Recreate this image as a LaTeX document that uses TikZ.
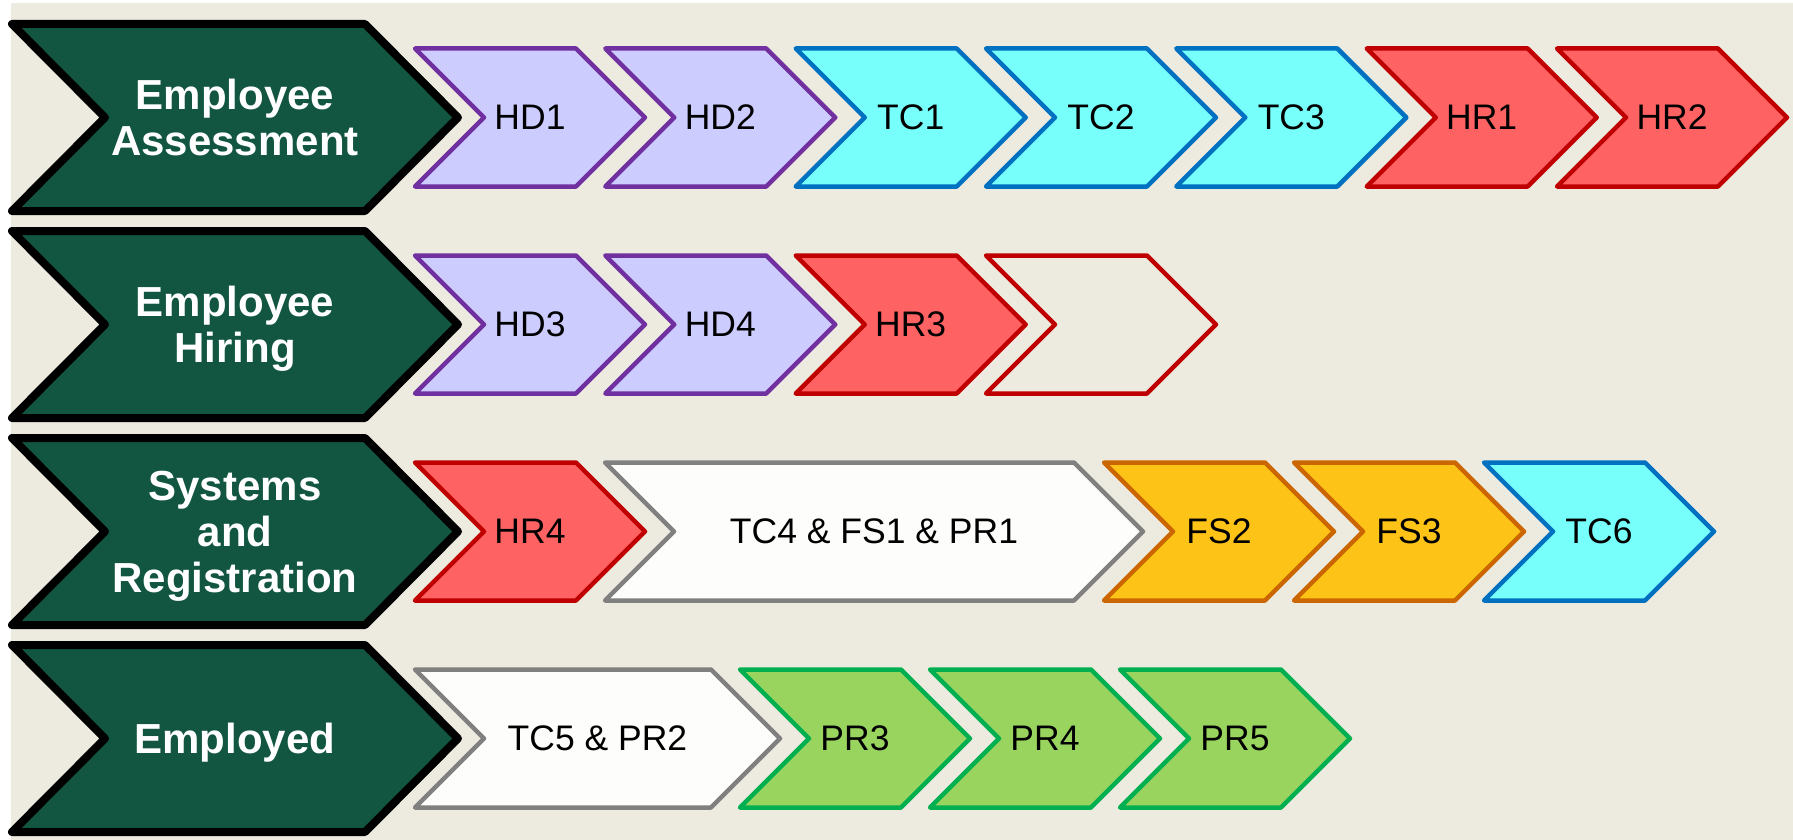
\documentclass[tikz,border=0pt]{standalone}
\usepackage{fontspec}
\setmainfont{Liberation Sans}
\usepackage{xcolor}
\definecolor{bg}{HTML}{EDEADF}
\definecolor{stagegreen}{HTML}{125642}
\definecolor{hdfill}{HTML}{CCCCFF}
\definecolor{hdline}{HTML}{7030A0}
\definecolor{tcfill}{HTML}{77FFFC}
\definecolor{tcline}{HTML}{0070C0}
\definecolor{hrfill}{HTML}{FF6262}
\definecolor{hrline}{HTML}{C00000}
\definecolor{fsfill}{HTML}{FDC316}
\definecolor{fsline}{HTML}{CC6600}
\definecolor{prfill}{HTML}{99D45E}
\definecolor{prline}{HTML}{00B050}
\definecolor{wtfill}{HTML}{FDFDFB}
\definecolor{wtline}{HTML}{808080}

\tikzset{
  stage/.style={fill=stagegreen, draw=black, line width=8pt, line join=round},
  task/.style={line width=4.5pt, line join=round},
  hd/.style={task, fill=hdfill, draw=hdline},
  tc/.style={task, fill=tcfill, draw=tcline},
  hr/.style={task, fill=hrfill, draw=hrline},
  hrempty/.style={task, draw=hrline},
  fs/.style={task, fill=fsfill, draw=fsline},
  pr/.style={task, fill=prfill, draw=prline},
  joint/.style={task, fill=wtfill, draw=wtline},
  stagetext/.style={text=white, font=\fontsize{42}{46}\selectfont\bfseries,
    align=center, inner sep=0pt, text depth=0pt},
  tasktext/.style={font=\fontsize{35.5}{42}\selectfont, inner sep=0pt, text depth=0pt}
}

% big dark chevron on the left of a row: name, mid y, text
\newcommand{\stagechev}[3]{%
  \draw[stage] (12,#2-93.5) -- (365,#2-93.5) -- (458,#2) -- (365,#2+93.5)
    -- (12,#2+93.5) -- (105,#2) -- cycle;
  \node[stagetext] (#1) at (235,#2) {#3};}

% small chevron: name, style, left, right, mid y, text
\newcommand{\taskchev}[6]{%
  \draw[#2] (#3,#5-69) -- (#4-69,#5-69) -- (#4,#5) -- (#4-69,#5+69)
    -- (#3,#5+69) -- (#3+69,#5) -- cycle;
  \node[tasktext] (#1) at ({(#3+#4)/2},#5) {#6};}

\begin{document}
\begin{tikzpicture}[x=1pt, y=-1pt]
  \useasboundingbox (0,0) rectangle (1793,840);
  \fill[bg] (11,3) rectangle (1793,840);

  % assessment
  \stagechev{assess}{117.5}{Employee\\Assessment}
  \taskchev{hdone}{hd}{415}{645}{117.5}{HD1}
  \taskchev{hdtwo}{hd}{605.3}{835.3}{117.5}{HD2}
  \taskchev{tcone}{tc}{795.7}{1025.7}{117.5}{TC1}
  \taskchev{tctwo}{tc}{986}{1216}{117.5}{TC2}
  \taskchev{tcthree}{tc}{1176.3}{1406.3}{117.5}{TC3}
  \taskchev{hrone}{hr}{1366.7}{1596.7}{117.5}{HR1}
  \taskchev{hrtwo}{hr}{1557}{1787}{117.5}{HR2}

  % hiring
  \stagechev{hiring}{324.5}{Employee\\Hiring}
  \taskchev{hdthree}{hd}{415}{645}{324.5}{HD3}
  \taskchev{hdfour}{hd}{605.3}{835.3}{324.5}{HD4}
  \taskchev{hrthree}{hr}{795.7}{1025.7}{324.5}{HR3}
  \taskchev{hrblank}{hrempty}{986}{1216}{324.5}{}

  % systems
  \stagechev{systems}{531.5}{Systems\\and\\Registration}
  \taskchev{hrfour}{hr}{415}{645}{531.5}{HR4}
  \taskchev{tcfour}{joint}{605}{1143}{531.5}{TC4 \& FS1 \& PR1}
  \taskchev{fstwo}{fs}{1104}{1334}{531.5}{FS2}
  \taskchev{fsthree}{fs}{1294}{1524}{531.5}{FS3}
  \taskchev{tcsix}{tc}{1484}{1714}{531.5}{TC6}

  % employed
  \stagechev{employed}{738.5}{Employed}
  \taskchev{tcfive}{joint}{415}{780}{738.5}{TC5 \& PR2}
  \taskchev{prthree}{pr}{740}{970}{738.5}{PR3}
  \taskchev{prfour}{pr}{930}{1160}{738.5}{PR4}
  \taskchev{prfive}{pr}{1120}{1350}{738.5}{PR5}
\end{tikzpicture}
\end{document}
